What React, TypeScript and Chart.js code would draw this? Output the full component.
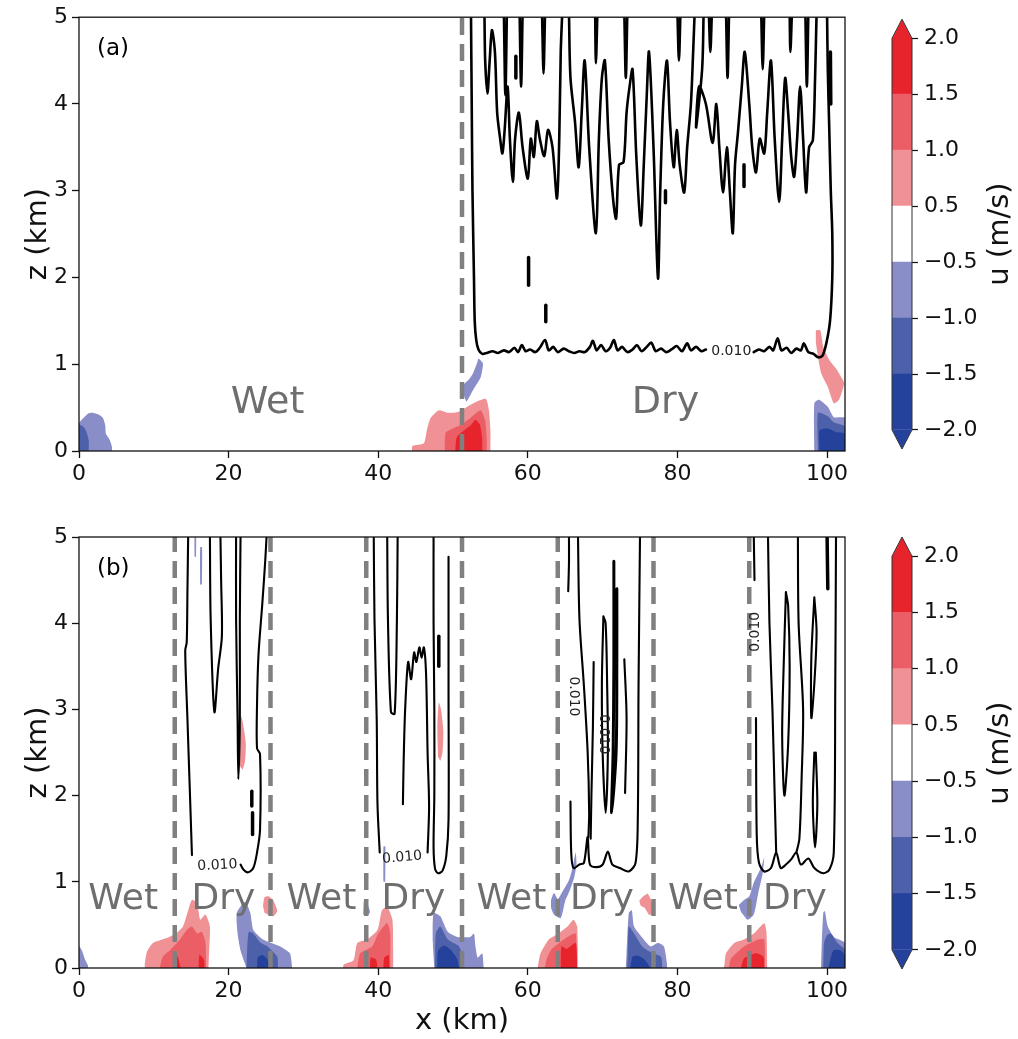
import React, { useEffect, useRef } from 'react';
import { Chart, registerables } from 'chart.js';

Chart.register(...registerables);
Chart.defaults.font.family = "'DejaVu Sans', sans-serif";

type P = [number, number];

// ---------- axes ----------
const X_MAX = 102.4;
const Z_MAX = 5;
const xTicks = [0, 20, 40, 60, 80, 100];
const zTicks = [0, 1, 2, 3, 4, 5];

// ---------- colour levels of u (m/s) ----------
const uLevels = [-2.0, -1.5, -1.0, -0.5, 0.5, 1.0, 1.5, 2.0];
const bandColors = [
  'rgb(36,66,155)',
  'rgb(77,96,170)',
  'rgb(137,141,200)',
  'rgb(255,255,255)',
  'rgb(240,145,149)',
  'rgb(236,94,102)',
  'rgb(231,35,44)',
];
const EXT = 0.34;

// ---------- wet/dry boundaries ----------
const frontsA = [51.2];
const frontsB = [12.8, 25.6, 38.4, 51.2, 64.0, 76.8, 89.6];

// ---------- region words ----------
const wordsA = ['Wet', 'Dry'];
const wordXA = [25.2, 78.4];
const wordZA = [0.55, 0.55];
const wordsB = ['Wet', 'Dry', 'Wet', 'Dry', 'Wet', 'Dry', 'Wet', 'Dry'];
const wordXB = [5.9, 19.3, 32.4, 44.7, 57.8, 69.9, 83.4, 95.7];
const wordZB = [0.79, 0.79, 0.79, 0.79, 0.79, 0.79, 0.79, 0.79];

// ---------- contour labels (0.010) ----------
const cLabelXA = [87.2];
const cLabelZA = [1.15];
const cLabelRotA = [0];
const cLabelXB = [18.5, 43.2, 66.1, 70.1, 90.4];
const cLabelZB = [1.19, 1.28, 3.15, 2.71, 3.9];
const cLabelRotB = [-3, -5, 90, 90, -90];

// ================= PANEL (a) u fields =================
const aBlueLeft1: P[] = [[0, 0], [0, 0.32], [0.6, 0.38], [1.2, 0.43], [1.8, 0.44], [2.6, 0.42], [3.2, 0.38], [3.5, 0.3], [3.6, 0.2], [4.1, 0.13], [4.4, 0.05], [4.4, 0]];
const aBlueLeft2: P[] = [[0, 0], [0, 0.3], [0.6, 0.28], [1.0, 0.22], [1.3, 0.12], [1.3, 0]];
const aRedFront1: P[] = [[44.5, 0], [44.6, 0.06], [46.1, 0.09], [46.5, 0.24], [47.0, 0.38], [48.1, 0.47], [49.4, 0.44], [50.7, 0.45], [51.9, 0.51], [53.2, 0.57], [54.4, 0.6], [54.8, 0.47], [55.0, 0.24], [55.0, 0]];
const aRedFront2: P[] = [[48.9, 0], [49.0, 0.21], [50.0, 0.26], [51.0, 0.3], [52.0, 0.36], [52.7, 0.41], [53.7, 0.47], [54.3, 0.35], [54.5, 0.15], [54.5, 0]];
const aRedFront3: P[] = [[50.3, 0], [50.5, 0.16], [51.5, 0.24], [52.4, 0.3], [53.0, 0.36], [53.6, 0.3], [53.9, 0.15], [53.9, 0]];
const aBlueFront1: P[] = [[53.4, 1.07], [54.0, 1.01], [53.7, 0.85], [52.8, 0.72], [52.1, 0.61], [51.8, 0.57], [51.4, 0.66], [51.4, 0.76], [52.1, 0.82], [52.7, 0.9], [53.2, 1.01]];
const aRedRight1: P[] = [[98.5, 1.39], [99.1, 1.39], [99.5, 1.2], [100.3, 1.05], [101.2, 0.95], [101.9, 0.85], [102.3, 0.78], [101.6, 0.59], [100.9, 0.55], [100.1, 0.74], [99.2, 0.9], [98.8, 1.08], [98.5, 1.25]];
const aBlueRight1: P[] = [[98.3, 0], [98.3, 0.55], [98.9, 0.59], [100.1, 0.51], [100.9, 0.39], [102.4, 0.38], [102.4, 0]];
const aBlueRight2: P[] = [[98.8, 0], [98.8, 0.44], [100.1, 0.4], [100.9, 0.33], [102.4, 0.28], [102.4, 0]];
const aBlueRight3: P[] = [[99.0, 0], [99.0, 0.24], [100.1, 0.26], [101.2, 0.22], [102.4, 0.2], [102.4, 0]];

// ================= PANEL (a) cloud contour (0.010) =================
const aEdgeL: P[] = [[52.4, 5.05], [52.5, 4.0], [52.6, 3.0], [52.8, 2.0], [52.9, 1.5], [53.1, 1.28], [53.4, 1.17], [53.9, 1.12], [54.5, 1.13], [55.3, 1.15], [56.0, 1.13], [56.8, 1.16], [57.5, 1.14], [58.2, 1.19], [58.7, 1.14], [59.2, 1.22], [59.7, 1.15], [60.3, 1.17], [61.0, 1.14], [61.6, 1.19], [62.3, 1.28], [62.8, 1.16], [63.4, 1.2], [64.0, 1.14], [64.8, 1.18], [65.5, 1.15], [66.2, 1.13], [66.9, 1.15], [67.6, 1.14], [68.3, 1.2], [68.7, 1.27], [69.2, 1.16], [69.8, 1.22], [70.4, 1.15], [71.0, 1.19], [71.5, 1.28], [72.0, 1.16], [72.6, 1.2], [73.3, 1.14], [74.0, 1.17], [74.6, 1.22], [75.2, 1.15], [75.9, 1.2], [76.5, 1.25], [77.1, 1.15], [77.8, 1.18], [78.5, 1.14], [79.2, 1.17], [79.9, 1.21], [80.6, 1.15], [81.3, 1.24], [81.8, 1.16], [82.5, 1.2], [83.2, 1.15], [83.8, 1.17]];
const aEdgeR: P[] = [[90.2, 1.14], [90.9, 1.17], [91.6, 1.15], [92.3, 1.2], [92.8, 1.16], [93.4, 1.3], [93.9, 1.16], [94.6, 1.19], [95.2, 1.13], [95.9, 1.18], [96.5, 1.16], [96.9, 1.24], [97.5, 1.14], [98.2, 1.12], [98.8, 1.08], [99.4, 1.1], [99.9, 1.24], [100.4, 1.5], [100.7, 2.0], [100.7, 2.5], [100.5, 3.0], [100.3, 3.7], [100.1, 4.4], [100.0, 5.05]];
const aWiggle1: P[] = [[54.2, 5.05], [54.3, 4.5], [54.6, 4.12], [54.9, 4.5], [55.2, 4.85], [55.6, 4.6], [55.9, 3.9], [56.3, 3.6], [56.6, 3.43], [56.9, 3.7], [57.3, 4.2], [57.6, 3.6], [58.0, 3.1], [58.3, 3.6], [58.8, 3.9], [59.3, 3.5], [60.0, 3.14], [60.4, 3.6], [60.8, 3.39], [61.2, 3.8], [61.6, 3.6], [62.2, 3.4], [62.7, 3.7], [63.3, 3.5], [63.9, 2.91], [64.2, 3.6], [64.4, 4.6], [64.6, 5.05]];
const aWiggle2: P[] = [[65.5, 5.05], [65.7, 4.3], [66.3, 3.8], [66.8, 3.27], [67.2, 3.9], [67.6, 4.5], [68.2, 3.5], [69.1, 2.51], [69.5, 3.6], [69.9, 4.3], [70.3, 4.5], [70.8, 3.6], [71.4, 2.9], [71.8, 2.68], [72.2, 3.3], [72.8, 3.33], [73.2, 3.9], [73.6, 4.2], [74.0, 4.4], [74.5, 3.4], [75.1, 2.6], [75.5, 3.3], [75.9, 4.1], [76.2, 4.6], [76.8, 3.5], [77.4, 1.99], [77.7, 3.0], [78.1, 4.0], [78.6, 4.5], [79.0, 3.8], [79.5, 3.27], [79.9, 3.7], [80.3, 3.3], [80.9, 2.98], [81.3, 3.5], [81.8, 4.0], [82.1, 4.6], [82.3, 5.05]];
const aWiggle3: P[] = [[83.5, 5.05], [83.3, 4.4], [82.5, 3.73], [82.9, 4.2], [83.8, 4.0], [84.7, 3.55], [85.2, 4.0], [85.6, 3.5], [86.1, 2.98], [86.6, 3.5], [87.0, 3.0], [87.4, 2.51], [87.7, 3.3], [88.1, 3.68], [88.6, 4.2], [89.0, 4.6], [89.6, 4.0], [90.0, 3.5], [90.5, 3.21], [91.0, 3.6], [91.6, 3.43], [92.0, 3.9], [92.5, 4.5], [93.0, 3.6], [93.6, 2.87], [94.0, 3.6], [94.4, 4.3], [94.8, 3.9], [95.2, 3.4], [95.6, 3.16], [96.0, 3.6], [96.4, 4.2], [96.8, 3.6], [97.2, 2.98], [97.6, 3.5], [98.1, 3.58], [98.4, 4.3], [98.6, 5.05]];
const aFinger1: P[] = [[58.9, 5.05], [59.1, 4.2], [59.3, 5.05]];
const aFinger2: P[] = [[69.0, 5.05], [69.1, 4.47], [69.3, 5.05]];
const aFinger3: P[] = [[86.5, 5.05], [86.7, 4.3], [86.9, 5.05]];
const aFinger4: P[] = [[91.2, 5.05], [91.4, 4.4], [91.6, 5.05]];
const aFinger5: P[] = [[95.0, 5.05], [95.1, 4.6], [95.3, 5.05]];
const aFinger6: P[] = [[56.8, 5.05], [57.0, 4.1], [57.2, 5.05]];
const aFinger7: P[] = [[61.9, 5.05], [62.1, 4.35], [62.3, 5.05]];
const aFinger8: P[] = [[72.9, 5.05], [73.1, 4.3], [73.3, 5.05]];
const aFinger9: P[] = [[80.0, 5.05], [80.2, 4.5], [80.4, 5.05]];
const aFinger10: P[] = [[84.2, 5.05], [84.4, 4.6], [84.6, 5.05]];
const aFinger11: P[] = [[97.1, 5.05], [97.3, 4.2], [97.5, 5.05]];
const aBit1: P[] = [[60.1, 2.23], [60.1, 1.91]];
const aBit2: P[] = [[62.4, 1.68], [62.4, 1.49]];
const aBit3: P[] = [[78.4, 3.0], [78.4, 2.86]];
const aBit4: P[] = [[100.45, 4.6], [100.5, 4.0]];
const aBit5: P[] = [[58.4, 4.55], [58.4, 4.3]];
const aBit6: P[] = [[88.9, 3.3], [88.9, 3.05]];

// ================= PANEL (b) u fields =================
const bBlueEdge0: P[] = [[0, 0], [0, 0.25], [0.4, 0.2], [0.8, 0.1], [1.2, 0.03], [1.2, 0]];
const bRed1a: P[] = [[8.8, 0], [8.8, 0.05], [9.1, 0.19], [9.9, 0.29], [11.8, 0.35], [13.1, 0.41], [13.9, 0.48], [14.6, 0.67], [15.1, 0.79], [15.8, 0.75], [16.2, 0.56], [16.9, 0.62], [17.5, 0.48], [17.4, 0.2], [17.3, 0]];
const bRed1b: P[] = [[10.8, 0], [11.2, 0.13], [12.2, 0.21], [13.5, 0.33], [14.4, 0.44], [15.1, 0.48], [15.8, 0.4], [16.4, 0.42], [16.9, 0.3], [17.0, 0]];
const bRed1c: P[] = [[12.6, 0], [12.7, 0.15], [13.2, 0.13], [13.6, 0]];
const bRed1d: P[] = [[16.0, 0], [16.1, 0.15], [16.7, 0.1], [16.8, 0]];
const bRedSpot1: P[] = [[24.6, 0.72], [24.8, 0.82], [25.4, 0.83], [26.0, 0.78], [26.5, 0.66], [26.0, 0.6], [25.3, 0.62], [24.8, 0.64]];
const bBlue1a: P[] = [[22.4, 0], [21.6, 0.2], [21.2, 0.4], [21.1, 0.64], [22.2, 0.77], [22.9, 0.64], [23.3, 0.44], [24.6, 0.33], [26.9, 0.25], [28.2, 0.17], [28.5, 0]];
const bBlue1b: P[] = [[22.4, 0], [22.5, 0.25], [22.7, 0.42], [23.3, 0.4], [24.2, 0.3], [25.2, 0.25], [26.5, 0.13], [26.6, 0]];
const bBlue1c: P[] = [[23.8, 0], [23.9, 0.12], [24.5, 0.15], [25.2, 0.1], [25.5, 0]];
const bRed2a: P[] = [[35.3, 0], [35.4, 0.04], [36.7, 0.09], [37.2, 0.29], [38.5, 0.33], [39.9, 0.44], [40.5, 0.67], [41.2, 0.71], [41.9, 0.56], [42.0, 0.2], [42.0, 0]];
const bRed2b: P[] = [[37.2, 0], [37.6, 0.17], [39.2, 0.25], [40.0, 0.4], [41.2, 0.52], [41.6, 0.4], [41.6, 0]];
const bRed2c: P[] = [[38.9, 0], [39.0, 0.12], [39.7, 0.1], [39.9, 0]];
const bRed2d: P[] = [[40.7, 0], [40.8, 0.12], [41.4, 0.15], [41.5, 0]];
const bBlueSpot2: P[] = [[38.0, 0.62], [38.1, 0.79], [38.5, 0.75], [38.9, 0.65], [38.5, 0.6]];
const bBlueStreak2: P[] = [[40.7, 1.0], [40.7, 1.41], [40.95, 1.41], [40.95, 1.0]];
const bBlue2a: P[] = [[47.5, 0], [47.3, 0.3], [47.4, 0.64], [48.3, 0.6], [49.3, 0.42], [50.6, 0.36], [52.3, 0.36], [52.8, 0.4], [53.0, 0.25], [53.3, 0.12], [53.9, 0.17], [54.1, 0]];
const bBlue2b: P[] = [[47.6, 0], [47.7, 0.4], [48.3, 0.48], [49.3, 0.33], [50.8, 0.25], [51.4, 0.1], [51.4, 0]];
const bBlue2c: P[] = [[47.9, 0], [48.0, 0.2], [48.8, 0.26], [49.8, 0.2], [50.6, 0.1], [50.8, 0]];
const bRed3a: P[] = [[61.3, 0], [61.4, 0.05], [61.7, 0.17], [62.8, 0.33], [64.1, 0.4], [65.3, 0.48], [66.1, 0.56], [66.6, 0.48], [66.7, 0]];
const bRed3b: P[] = [[62.3, 0], [62.5, 0.1], [63.1, 0.21], [64.8, 0.33], [65.7, 0.38], [66.4, 0.4], [66.6, 0]];
const bRed3c: P[] = [[64.4, 0], [64.5, 0.25], [65.2, 0.22], [66.4, 0.29], [66.6, 0]];
const bBluePlume3: P[] = [[63.1, 0.79], [63.5, 0.87], [64.0, 0.8], [64.4, 0.85], [65.5, 1.02], [66.0, 1.17], [66.4, 1.34], [66.5, 1.2], [66.2, 1.05], [65.6, 0.9], [65.0, 0.78], [64.4, 0.58], [63.5, 0.62], [63.1, 0.7]];
const bRedSpot3: P[] = [[74.9, 0.78], [75.3, 0.82], [76.0, 0.86], [76.5, 0.78], [76.7, 0.62], [76.2, 0.62], [75.6, 0.7], [75.1, 0.72]];
const bBlue3a: P[] = [[73.1, 0], [73.2, 0.17], [73.5, 0.64], [73.9, 0.67], [74.2, 0.48], [75.5, 0.33], [76.4, 0.25], [77.4, 0.29], [78.2, 0.25], [78.6, 0.05], [78.6, 0]];
const bBlue3b: P[] = [[73.3, 0], [73.4, 0.3], [73.5, 0.48], [74.2, 0.4], [75.3, 0.25], [76.7, 0.17], [77.8, 0.13], [78.0, 0]];
const bBlue3c: P[] = [[73.7, 0], [74.0, 0.13], [74.8, 0.14], [75.6, 0.1], [76.4, 0]];
const bRed4a: P[] = [[86.2, 0], [86.3, 0.05], [86.5, 0.17], [87.6, 0.29], [88.9, 0.33], [90.2, 0.4], [91.6, 0.52], [91.9, 0.42], [92.0, 0]];
const bRed4b: P[] = [[86.9, 0], [87.1, 0.1], [87.6, 0.15], [88.9, 0.25], [90.8, 0.33], [91.6, 0.33], [91.7, 0]];
const bRed4c: P[] = [[88.5, 0], [88.9, 0.11], [90.5, 0.17], [91.5, 0.13], [91.6, 0]];
const bBluePlume4: P[] = [[88.2, 0.73], [88.9, 0.79], [89.6, 0.83], [90.2, 0.99], [91.2, 1.17], [91.6, 1.28], [91.4, 1.1], [90.8, 0.87], [90.2, 0.62], [89.4, 0.56], [88.5, 0.65]];
const bBlue4a: P[] = [[99.2, 0], [99.3, 0.3], [99.5, 0.64], [99.7, 0.66], [100.1, 0.48], [100.9, 0.36], [101.6, 0.33], [102.4, 0.29], [102.4, 0]];
const bBlue4b: P[] = [[99.5, 0], [99.6, 0.29], [100.0, 0.38], [100.5, 0.4], [101.4, 0.29], [102.4, 0.21], [102.4, 0]];
const bBlue4c: P[] = [[100.2, 0], [100.5, 0.12], [100.9, 0.21], [101.9, 0.2], [102.4, 0.14], [102.4, 0]];
const bRedCloud1: P[] = [[21.5, 2.34], [21.5, 2.7], [21.7, 2.92], [21.9, 2.85], [22.3, 2.6], [22.2, 2.4], [21.9, 2.3]];
const bRedCloud2: P[] = [[48.0, 2.45], [47.9, 2.8], [48.1, 3.08], [48.4, 3.0], [48.7, 2.75], [48.6, 2.5], [48.3, 2.4]];
const bBlueTop1: P[] = [[15.45, 4.77], [15.45, 5.0], [15.65, 5.0], [15.65, 4.77]];
const bBlueTop2: P[] = [[16.2, 4.45], [16.2, 4.88], [16.45, 4.88], [16.45, 4.45]];

// ================= PANEL (b) cloud contours (0.010) =================
const c1Left: P[] = [[14.6, 5.05], [14.5, 4.4], [14.4, 3.78], [14.2, 3.68], [14.5, 2.88], [14.8, 2.1], [15.1, 1.31]];
const c1Right: P[] = [[21.6, 1.2], [22.0, 1.14], [22.6, 1.11], [23.3, 1.16], [23.8, 1.34], [24.2, 1.6], [24.2, 2.48], [23.8, 2.55], [23.8, 3.06], [24.0, 3.64], [24.5, 4.22], [24.9, 4.73], [25.1, 5.05]];
const c1F1: P[] = [[17.5, 5.05], [17.6, 4.05], [18.1, 2.97], [18.6, 3.47], [19.1, 3.85], [19.0, 4.5], [18.9, 5.05]];
const c1F2: P[] = [[21.0, 5.05], [21.0, 4.05], [21.2, 2.88], [21.3, 2.19], [21.5, 2.88], [21.5, 4.05], [21.6, 5.05]];
const c1Bit1: P[] = [[23.1, 2.05], [23.1, 1.88]];
const c1Bit2: P[] = [[23.2, 1.8], [23.2, 1.55]];
const c2Left: P[] = [[39.4, 5.05], [39.5, 4.05], [39.8, 2.88], [39.9, 1.91], [40.2, 1.34]];
const c2Mid: P[] = [[46.6, 1.34], [46.8, 1.87], [46.6, 2.5], [46.4, 3.4], [46.1, 3.72], [45.8, 3.6], [45.5, 3.72], [45.1, 3.55], [44.8, 3.66], [44.4, 3.35], [44.0, 3.55], [43.6, 3.0], [43.4, 2.4], [43.3, 1.9]];
const c2Loop: P[] = [[47.4, 5.05], [47.4, 4.0], [47.5, 3.0], [47.5, 2.0], [47.4, 1.4], [47.6, 1.15], [48.0, 1.1], [48.6, 1.13], [49.1, 1.3], [49.4, 1.72], [49.4, 3.27], [49.4, 4.77]];
const c2F1: P[] = [[41.2, 5.05], [41.3, 4.05], [41.7, 2.97], [42.2, 2.95], [42.5, 4.05], [42.6, 5.05]];
const c2Bit: P[] = [[48.1, 3.85], [48.1, 3.5]];
const c3Short: P[] = [[65.5, 5.05], [65.5, 4.7], [65.4, 4.37]];
const c3Inner: P[] = [[66.7, 5.05], [66.9, 4.05], [67.5, 3.27], [68.0, 2.5], [68.2, 1.8], [68.1, 1.52]];
const c3Outer: P[] = [[65.7, 1.93], [65.8, 1.34], [66.1, 1.16], [66.9, 1.2], [67.5, 1.22], [68.0, 1.52], [68.3, 1.2], [69.2, 1.17], [70.0, 1.2], [70.7, 1.35], [71.3, 1.2], [72.3, 1.16], [73.5, 1.12], [74.4, 1.22], [74.7, 1.72], [74.8, 3.27], [75.0, 5.05]];
const c3F1: P[] = [[68.8, 3.55], [68.7, 2.8], [68.5, 2.0], [68.4, 1.5]];
const c3F2: P[] = [[70.1, 4.08], [69.9, 3.3], [70.0, 2.5], [70.4, 1.8], [70.7, 2.5], [70.6, 3.3], [70.4, 4.0], [70.1, 4.08]];
const c3F3: P[] = [[71.5, 4.72], [71.5, 3.5], [71.4, 2.5], [71.2, 1.8], [71.8, 2.5], [71.9, 3.6], [71.9, 4.4]];
const c3F4: P[] = [[72.9, 3.58], [73.2, 2.9], [73.0, 2.03]];
const c4Short: P[] = [[90.2, 5.05], [90.3, 4.5]];
const c4Outer: P[] = [[90.5, 2.9], [90.6, 1.54], [90.9, 1.22], [91.6, 1.12], [92.5, 1.16], [93.2, 1.34], [93.8, 1.16], [94.5, 1.2], [95.2, 1.26], [95.9, 1.34], [96.5, 1.2], [97.5, 1.27], [98.3, 1.16], [99.5, 1.1], [100.3, 1.14], [100.9, 1.34], [101.1, 3.27], [101.2, 5.05]];
const c4L1: P[] = [[92.1, 5.05], [92.3, 4.0], [92.7, 3.0], [93.0, 2.0], [93.2, 1.34]];
const c4Loop1: P[] = [[94.5, 4.36], [94.2, 3.5], [94.0, 2.7], [94.3, 2.0], [94.8, 2.6], [95.0, 3.5], [94.8, 4.2], [94.5, 4.36]];
const c4L2: P[] = [[96.1, 5.05], [96.2, 4.0], [96.8, 3.0], [96.6, 2.2], [96.3, 1.5], [95.9, 1.34]];
const c4Loop2: P[] = [[98.3, 4.3], [97.9, 3.6], [97.9, 2.9], [98.3, 3.3], [98.6, 3.9], [98.3, 4.3]];
const c4Loop3: P[] = [[98.3, 2.5], [98.1, 1.9], [98.4, 1.4], [98.7, 1.9], [98.5, 2.5]];
const c4Bit: P[] = [[100.0, 5.05], [100.1, 4.4]];

// ---------- layer lists: [colour band, polygon] and [line width, polyline] ----------
const fillsA: [number, P[]][] = [
  [2, aBlueLeft1], [1, aBlueLeft2], [4, aRedFront1], [5, aRedFront2], [6, aRedFront3], [2, aBlueFront1],
  [4, aRedRight1], [2, aBlueRight1], [1, aBlueRight2], [0, aBlueRight3],
];
const linesA: [number, P[]][] = [
  [2.6, aEdgeL], [2.6, aEdgeR], [2.6, aWiggle1], [2.6, aWiggle2], [2.6, aWiggle3],
  [2.6, aFinger1], [2.6, aFinger2], [2.6, aFinger3], [2.6, aFinger4], [2.6, aFinger5],
  [2.6, aFinger6], [2.6, aFinger7], [2.6, aFinger8], [2.6, aFinger9], [2.6, aFinger10], [2.6, aFinger11],
  [3.5, aBit1], [3.5, aBit2], [3.5, aBit3], [3.5, aBit4], [3.5, aBit5], [3.5, aBit6],
];
const fillsB: [number, P[]][] = [
  [2, bBlueEdge0], [4, bRed1a], [5, bRed1b], [6, bRed1c], [6, bRed1d], [4, bRedSpot1],
  [2, bBlue1a], [1, bBlue1b], [0, bBlue1c], [4, bRed2a], [5, bRed2b], [6, bRed2c], [6, bRed2d],
  [2, bBlueSpot2], [2, bBlueStreak2], [2, bBlue2a], [1, bBlue2b], [0, bBlue2c],
  [4, bRed3a], [5, bRed3b], [6, bRed3c], [2, bBluePlume3], [4, bRedSpot3],
  [2, bBlue3a], [1, bBlue3b], [0, bBlue3c], [4, bRed4a], [5, bRed4b], [6, bRed4c], [2, bBluePlume4],
  [2, bBlue4a], [1, bBlue4b], [0, bBlue4c], [4, bRedCloud1], [4, bRedCloud2], [2, bBlueTop1], [2, bBlueTop2],
];
const linesB: [number, P[]][] = [
  [2.1, c1Left], [2.1, c1Right], [2.1, c1F1], [2.1, c1F2], [3.5, c1Bit1], [3.5, c1Bit2],
  [2.1, c2Left], [2.1, c2Mid], [2.1, c2Loop], [2.1, c2F1], [3.5, c2Bit],
  [2.1, c3Short], [2.1, c3Inner], [2.1, c3Outer], [2.1, c3F1], [2.1, c3F2], [3.0, c3F3], [2.1, c3F4],
  [2.1, c4Short], [2.1, c4Outer], [2.1, c4L1], [2.1, c4Loop1], [2.1, c4L2], [2.1, c4Loop2], [2.1, c4Loop3], [3.5, c4Bit],
];

// ---------- helpers ----------
const toXY = (pts: P[]) => pts.map(([x, y]) => ({ x, y }));
const bandOrder = [10, 20, 30, 0, 30, 20, 10];

function fillDs(band: number, pts: P[]) {
  return {
    data: toXY(pts), fill: 'shape', backgroundColor: bandColors[band], borderWidth: 0,
    pointRadius: 0, tension: 0.2, order: bandOrder[band],
  };
}
function frontDs(x: number) {
  return {
    data: toXY([[x, 0], [x, Z_MAX]]), borderColor: 'rgb(128,128,128)', borderWidth: 4.5,
    borderDash: [17, 9], pointRadius: 0, fill: false, order: 5,
  };
}
function lineDs(w: number, pts: P[]) {
  return {
    data: toXY(pts), borderColor: '#000', borderWidth: w, pointRadius: 0, fill: false,
    tension: 0.3, borderCapStyle: 'round', borderJoinStyle: 'round', order: 1,
  };
}
const fmt = (v: number) => (v < 0 ? '\u2212' + (-v).toFixed(1) : v.toFixed(1));

const framePlugin = {
  id: 'frame',
  afterDraw(chart: any) {
    const { ctx, chartArea: a } = chart;
    ctx.save();
    ctx.strokeStyle = '#111';
    ctx.lineWidth = 1.3;
    ctx.strokeRect(a.left, a.top, a.right - a.left, a.bottom - a.top);
    ctx.restore();
  },
};

interface PanelSpec {
  tag: string; padTop: number; xAxisH: number; showXTitle: boolean; wordSize: number;
  fills: [number, P[]][]; lines: [number, P[]][]; fronts: number[];
  words: string[]; wordX: number[]; wordZ: number[];
  labX: number[]; labZ: number[]; labRot: number[];
}

function textPlugin(p: PanelSpec) {
  return {
    id: 'texts',
    afterDatasetsDraw(chart: any) {
      const { ctx, scales: { x, y } } = chart;
      ctx.save();
      ctx.textAlign = 'center';
      ctx.textBaseline = 'middle';
      ctx.fillStyle = 'rgb(110,110,110)';
      ctx.font = `${p.wordSize}px 'DejaVu Sans'`;
      p.words.forEach((w, i) => ctx.fillText(w, x.getPixelForValue(p.wordX[i]), y.getPixelForValue(p.wordZ[i])));
      ctx.fillStyle = '#222';
      ctx.font = "14px 'DejaVu Sans'";
      p.labX.forEach((lx, i) => {
        ctx.save();
        ctx.translate(x.getPixelForValue(lx), y.getPixelForValue(p.labZ[i]));
        ctx.rotate((p.labRot[i] * Math.PI) / 180);
        ctx.fillText('0.010', 0, 0);
        ctx.restore();
      });
      ctx.fillStyle = '#000';
      ctx.textAlign = 'left';
      ctx.font = "23px 'DejaVu Sans'";
      ctx.fillText(p.tag, x.getPixelForValue(2.4), y.getPixelForValue(4.63));
      ctx.restore();
    },
  };
}

function mainConfig(p: PanelSpec): any {
  const datasets: any[] = [];
  p.fills.forEach(([b, pts]) => datasets.push(fillDs(b, pts)));
  p.fronts.forEach((fx) => datasets.push(frontDs(fx)));
  p.lines.forEach(([w, pts]) => datasets.push(lineDs(w, pts)));
  const tickFont = { size: 22 };
  return {
    type: 'line',
    data: { datasets },
    options: {
      responsive: false,
      animation: false,
      events: [],
      layout: { padding: { top: p.padTop, right: 25, left: 0, bottom: 0 } },
      plugins: { legend: { display: false }, tooltip: { enabled: false } },
      scales: {
        x: {
          type: 'linear', min: 0, max: X_MAX,
          afterBuildTicks: (s: any) => { s.ticks = xTicks.map((v) => ({ value: v })); },
          afterFit: (s: any) => { s.height = p.xAxisH; },
          ticks: { font: tickFont, color: '#111', padding: 3, maxRotation: 0, autoSkip: false },
          grid: { drawOnChartArea: false, drawTicks: true, tickLength: 7, tickColor: '#111', tickWidth: 1.3 },
          border: { display: false },
          title: { display: p.showXTitle, text: 'x (km)', font: { size: 29 }, color: '#111', padding: { top: 0, bottom: 0 } },
        },
        y: {
          type: 'linear', min: 0, max: Z_MAX,
          afterBuildTicks: (s: any) => { s.ticks = zTicks.map((v) => ({ value: v })); },
          afterFit: (s: any) => { s.width = 79; },
          ticks: { font: tickFont, color: '#111', padding: 4, autoSkip: false },
          grid: { drawOnChartArea: false, drawTicks: true, tickLength: 7, tickColor: '#111', tickWidth: 1.3 },
          border: { display: false },
          title: { display: true, text: 'z (km)', font: { size: 29 }, color: '#111', padding: { top: 21, bottom: 0 } },
        },
      },
    },
    plugins: [textPlugin(p), framePlugin],
  };
}

const cbarPlugin = {
  id: 'cbarExt',
  afterDatasetsDraw(chart: any) {
    const { ctx, chartArea: a, scales: { y } } = chart;
    const n = uLevels.length - 1;
    const l = a.left, r = a.right, cx = (l + r) / 2;
    const yHi = y.getPixelForValue(n), yLo = y.getPixelForValue(0);
    const yTip = y.getPixelForValue(n + EXT), yBot = y.getPixelForValue(-EXT);
    ctx.save();
    ctx.fillStyle = bandColors[n - 1];
    ctx.beginPath(); ctx.moveTo(l, yHi + 0.5); ctx.lineTo(cx, yTip); ctx.lineTo(r, yHi + 0.5); ctx.closePath(); ctx.fill();
    ctx.fillStyle = bandColors[0];
    ctx.beginPath(); ctx.moveTo(l, yLo - 0.5); ctx.lineTo(cx, yBot); ctx.lineTo(r, yLo - 0.5); ctx.closePath(); ctx.fill();
    ctx.strokeStyle = '#333';
    ctx.lineWidth = 1;
    ctx.beginPath();
    ctx.moveTo(l, yHi); ctx.lineTo(cx, yTip); ctx.lineTo(r, yHi); ctx.lineTo(r, yLo);
    ctx.lineTo(cx, yBot); ctx.lineTo(l, yLo); ctx.closePath(); ctx.stroke();
    ctx.fillStyle = '#111';
    ctx.font = "29px 'DejaVu Sans'";
    ctx.textAlign = 'center';
    ctx.textBaseline = 'middle';
    ctx.translate(r + 88, (a.top + a.bottom) / 2);
    ctx.rotate(-Math.PI / 2);
    ctx.fillText('u (m/s)', 0, 0);
    ctx.restore();
  },
};

function cbarConfig(padTop: number, padBottom: number): any {
  return {
    type: 'bar',
    data: {
      labels: ['u'],
      datasets: bandColors.map((c, i) => ({
        data: [[i, i + 1]], backgroundColor: c, borderWidth: 0, grouped: false,
        barPercentage: 1, categoryPercentage: 1,
      })),
    },
    options: {
      responsive: false,
      animation: false,
      events: [],
      layout: { padding: { top: padTop, bottom: padBottom, left: 22, right: 0 } },
      plugins: { legend: { display: false }, tooltip: { enabled: false } },
      scales: {
        x: { display: false },
        y: {
          position: 'right', min: -EXT, max: uLevels.length - 1 + EXT,
          afterBuildTicks: (s: any) => { s.ticks = uLevels.map((_, i) => ({ value: i })); },
          afterFit: (s: any) => { s.width = 106; },
          ticks: { callback: (v: number) => fmt(uLevels[v]), font: { size: 22 }, color: '#111', padding: 6, autoSkip: false },
          grid: { drawOnChartArea: false, drawTicks: true, tickLength: 6, tickColor: '#111', tickWidth: 1.2 },
          border: { display: false },
        },
      },
    },
    plugins: [cbarPlugin],
  };
}

const panelA: PanelSpec = {
  tag: '(a)', padTop: 17, xAxisH: 44, showXTitle: false, wordSize: 38,
  fills: fillsA, lines: linesA, fronts: frontsA,
  words: wordsA, wordX: wordXA, wordZ: wordZA,
  labX: cLabelXA, labZ: cLabelZA, labRot: cLabelRotA,
};
const panelB: PanelSpec = {
  tag: '(b)', padTop: 42, xAxisH: 71, showXTitle: true, wordSize: 36,
  fills: fillsB, lines: linesB, fronts: frontsB,
  words: wordsB, wordX: wordXB, wordZ: wordZB,
  labX: cLabelXB, labZ: cLabelZB, labRot: cLabelRotB,
};

export default function App() {
  const aRef = useRef<HTMLCanvasElement>(null);
  const caRef = useRef<HTMLCanvasElement>(null);
  const bRef = useRef<HTMLCanvasElement>(null);
  const cbRef = useRef<HTMLCanvasElement>(null);

  useEffect(() => {
    const charts = [
      new Chart(aRef.current as HTMLCanvasElement, mainConfig(panelA)),
      new Chart(caRef.current as HTMLCanvasElement, cbarConfig(17, 46)),
      new Chart(bRef.current as HTMLCanvasElement, mainConfig(panelB)),
      new Chart(cbRef.current as HTMLCanvasElement, cbarConfig(42, 70)),
    ];
    return () => charts.forEach((c) => c.destroy());
  }, []);

  return (
    <div style={{ position: 'absolute', left: 0, top: 0, width: 1018, height: 1039, background: '#fff' }}>
      <canvas ref={aRef} width={870} height={495} style={{ position: 'absolute', left: 0, top: 0 }} />
      <canvas ref={caRef} width={148} height={495} style={{ position: 'absolute', left: 870, top: 0 }} />
      <canvas ref={bRef} width={870} height={544} style={{ position: 'absolute', left: 0, top: 495 }} />
      <canvas ref={cbRef} width={148} height={544} style={{ position: 'absolute', left: 870, top: 495 }} />
    </div>
  );
}
